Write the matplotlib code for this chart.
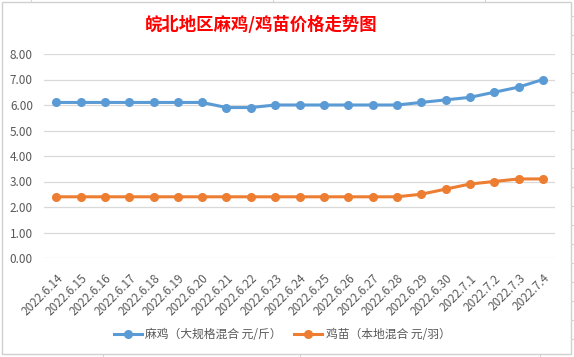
import matplotlib.pyplot as plt
from matplotlib.patches import Rectangle
from matplotlib.lines import Line2D

plt.rcParams['font.family'] = ['Noto Sans CJK SC', 'DejaVu Sans']

dates = ['2022.6.14', '2022.6.15', '2022.6.16', '2022.6.17', '2022.6.18',
         '2022.6.19', '2022.6.20', '2022.6.21', '2022.6.22', '2022.6.23',
         '2022.6.24', '2022.6.25', '2022.6.26', '2022.6.27', '2022.6.28',
         '2022.6.29', '2022.6.30', '2022.7.1', '2022.7.2', '2022.7.3', '2022.7.4']
maji = [6.1, 6.1, 6.1, 6.1, 6.1, 6.1, 6.1, 5.9, 5.9, 6.0, 6.0,
        6.0, 6.0, 6.0, 6.0, 6.1, 6.2, 6.3, 6.5, 6.7, 7.0]
jimiao = [2.4, 2.4, 2.4, 2.4, 2.4, 2.4, 2.4, 2.4, 2.4, 2.4, 2.4,
          2.4, 2.4, 2.4, 2.4, 2.5, 2.7, 2.9, 3.0, 3.1, 3.1]
yticks = [0, 1, 2, 3, 4, 5, 6, 7, 8]
label_maji = '麻鸡（大规格混合 元/斤）'
label_jimiao = '鸡苗（本地混合 元/羽）'
title = '皖北地区麻鸡/鸡苗价格走势图'

W, H = 574, 357
fig = plt.figure(figsize=(W / 100, H / 100), dpi=100)
fig.patch.set_facecolor('white')

# excel sheet gridlines outside the chart
for y in range(16, H, 19):
    fig.add_artist(Line2D([571 / W, 1], [1 - y / H, 1 - y / H], color='#d4d4d4', lw=0.8))
for x in [31, 273, 485]:
    fig.add_artist(Line2D([x / W, x / W], [1 - 2 / H, 1], color='#d4d4d4', lw=0.8))
for x in [103, 300, 540]:
    fig.add_artist(Line2D([x / W, x / W], [0, 2 / H], color='#d4d4d4', lw=0.8))
# chart border
fig.add_artist(Rectangle((2 / W, 3 / H), 569 / W, 352 / H, fill=False,
                         edgecolor='#d0d0d0', lw=1.0))

ax = fig.add_axes([44 / W, 1 - 258 / H, 511 / W, 204 / H])
x = range(len(dates))
ax.plot(x, maji, color='#5B9BD5', lw=2.2, marker='o', markersize=5.5, label=label_maji)
ax.plot(x, jimiao, color='#ED7D31', lw=2.2, marker='o', markersize=5.5, label=label_jimiao)

ax.set_xlim(-0.5, len(dates) - 0.5)
ax.set_ylim(0, 8)
ax.set_yticks(yticks)
ax.set_yticklabels(['%.2f' % v for v in yticks])
ax.set_xticks(list(x))
ax.set_xticklabels(dates, rotation=45, ha='right', va='top', rotation_mode='anchor')
ax.tick_params(axis='both', length=0, colors='#595959', labelsize=8.5)
ax.tick_params(axis='y', pad=8)
ax.tick_params(axis='x', pad=10)
ax.grid(axis='y', color='#d9d9d9', lw=0.9)
ax.set_axisbelow(True)
for s in ax.spines.values():
    s.set_visible(False)

fig.text(261 / W, 1 - 25 / H, title, color='#FF0000', fontsize=12.5,
         fontweight='bold', ha='center', va='center')

fig.legend(loc='center', bbox_to_anchor=(282 / W, 1 - 335 / H), ncol=2, frameon=False,
           fontsize=8.5, handlelength=2.4, columnspacing=1.0, handletextpad=0.3,
           labelcolor='#595959')

fig.savefig('out.png', dpi=100, facecolor='white')
